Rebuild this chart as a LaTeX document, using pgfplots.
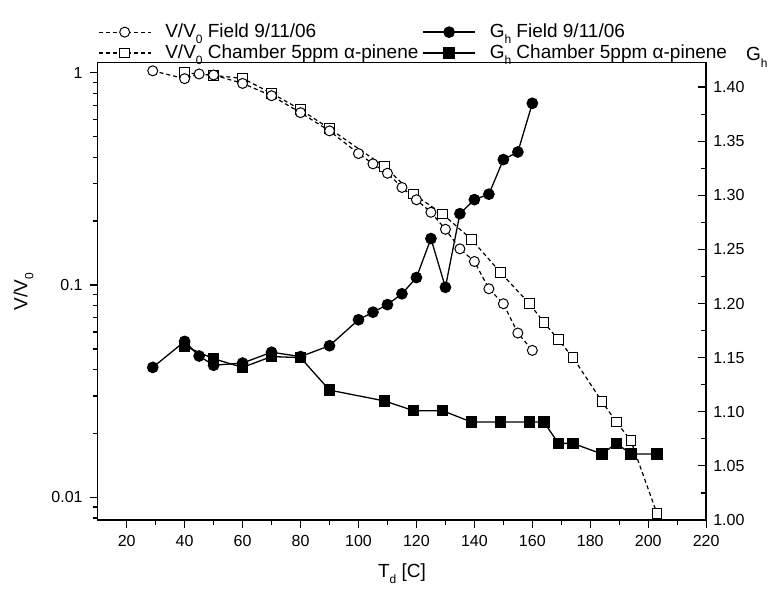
\documentclass[border=0pt]{standalone}
\usepackage{fontspec}
\setmainfont{Liberation Sans}
\usepackage{pgfplots}
\usepackage{pgfplotstable}
\pgfplotsset{compat=1.18}

\newcommand{\sub}[1]{\raisebox{-0.6ex}{\fontsize{6}{6}\selectfont #1}}

% field measurement 9/11/06
\pgfplotstableread{
T    vv      gh
29   1.02    1.141
40   0.937   1.165
45   0.986   1.1515
50   0.975   1.143
60   0.89    1.145
70   0.779   1.155
80   0.648   1.151
90   0.532   1.161
100  0.416   1.185
105  0.372   1.192
110  0.336   1.199
115  0.288   1.209
120  0.252   1.224
125  0.220   1.260
130  0.183   1.215
135  0.148   1.283
140  0.129   1.296
145  0.096   1.301
150  0.0816  1.333
155  0.0594  1.340
160  0.0492  1.385
}\fielddata

% chamber, 5ppm alpha-pinene
\pgfplotstableread{
T    vv      gh
40   1.0     1.1607
50   0.97    1.149
60   0.94    1.141
70   0.80    1.151
80   0.67    1.150
90   0.545   1.120
109  0.361   1.110
119  0.268   1.101
129  0.216   1.101
139  0.164   1.0905
149  0.1145  1.0905
159  0.0816  1.0905
164  0.0667  1.0905
169  0.0552  1.0708
174  0.0456  1.0708
184  0.0283  1.061
189  0.0226  1.0708
194  0.0185  1.061
203  0.0084  1.061
}\chamberdata

\pgfplotsset{
  vfield/.style={black, line width=0.6pt, dash pattern=on 2pt off 1.5pt,
    mark=*, mark size=2.5pt, mark options={solid, fill=white, line width=0.5pt}},
  vchamber/.style={black, line width=0.6pt, dash pattern=on 2pt off 1.5pt,
    mark=square*, mark size=2.4pt, mark options={solid, fill=white, line width=0.5pt}},
  gfield/.style={black, line width=0.65pt, solid,
    mark=*, mark size=2.6pt, mark options={solid, fill=black}},
  gchamber/.style={black, line width=0.65pt, solid,
    mark=square*, mark size=2.5pt, mark options={solid, fill=black}},
  common/.style={
    scale only axis, width=304.25pt, height=228.65pt,
    xmin=10, xmax=220,
    axis line style={line width=0.75pt},
    tick style={line width=0.6pt, black},
    major tick length=4pt, minor tick length=2.5pt,
    tick label style={font=\fontsize{8}{9}\selectfont},
    /pgf/number format/assume math mode=true,
  },
}

\begin{document}
\begin{tikzpicture}
\useasboundingbox (-48.85pt,-35pt) rectangle (340.15pt,260pt);

\begin{semilogyaxis}[
  common,
  ymin=0.00782, ymax=1.114,
  xtick={20,40,...,220}, minor x tick num=1,
  ytick={0.01,0.1,1}, yticklabels={0.01,0.1,1},
  minor ytick={0.008,0.009,0.02,0.03,0.04,0.05,0.06,0.07,0.08,0.09,
    0.2,0.3,0.4,0.5,0.6,0.7,0.8,0.9},
  tick align=outside, xtick pos=left, ytick pos=left,
  xlabel={T\sub{d} [C]}, ylabel={V/V\sub{0}},
  label style={font=\fontsize{9.5}{11}\selectfont},
  xlabel style={at={(axis description cs:0.5,0)}, anchor=center, yshift=-27pt},
  ylabel style={at={(axis description cs:-0.122,0.5)}, anchor=center},
]
  \addplot[vchamber] table[x=T, y=vv] {\chamberdata};
  \addplot[vfield] table[x=T, y=vv] {\fielddata};
\end{semilogyaxis}

\begin{axis}[
  common,
  ymin=1, ymax=1.4225,
  axis x line=none, axis y line*=right, y axis line style={-},
  ytick={1.00,1.05,1.10,1.15,1.20,1.25,1.30,1.35,1.40}, minor y tick num=1,
  yticklabel style={/pgf/number format/.cd, fixed, fixed zerofill, precision=2},
  tick align=inside,
  legend columns=2, legend cell align=left,
  legend image code/.code={\draw[mark repeat=2,mark phase=2,#1]
    plot coordinates {(0pt,0pt) (13pt,0pt) (26pt,0pt)};},
  legend style={at={(0,1)}, anchor=south west, draw=none, fill=none,
    inner sep=0pt, row sep=1pt, font=\fontsize{9.5}{11}\selectfont,
    nodes={inner ysep=0.5pt, inner xsep=2pt},
    /tikz/every odd column/.append style={column sep=5pt}},
]
  \addlegendimage{vfield}
  \addlegendentry{V/V\sub{0} Field 9/11/06}
  \addplot[gfield] table[x=T, y=gh] {\fielddata};
  \addlegendentry{G\sub{h} Field 9/11/06}
  \addlegendimage{vchamber}
  \addlegendentry{V/V\sub{0} Chamber 5ppm α-pinene}
  \addplot[gchamber] table[x=T, y=gh] {\chamberdata};
  \addlegendentry{G\sub{h} Chamber 5ppm α-pinene}
\end{axis}
\node[anchor=base west, inner sep=0pt, font=\fontsize{9.5}{11}\selectfont]
  at (324pt,229.5pt) {G\sub{h}};
\end{tikzpicture}
\end{document}
